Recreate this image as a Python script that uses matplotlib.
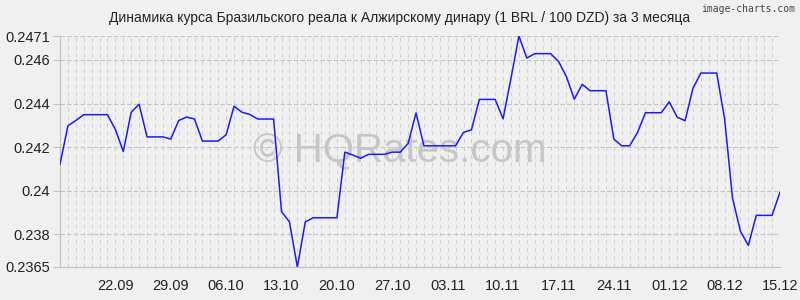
import numpy as np
import pandas as pd
import matplotlib
matplotlib.use("Agg")
import matplotlib.pyplot as plt
import matplotlib.dates as mdates

plt.rcParams['font.family'] = ['Liberation Sans', 'DejaVu Sans']

# daily BRL/DZD rate (per 100 DZD), 15.09 - 15.12
dates = pd.date_range('2024-09-15', '2024-12-15', freq='D')
rates = [
    0.24121, 0.24298, 0.24322, 0.24349, 0.24349, 0.24349, 0.24349, 0.24281,
    0.24180, 0.24360, 0.24397, 0.24247, 0.24247, 0.24247, 0.24237, 0.24322,
    0.24338, 0.24329, 0.24228, 0.24228, 0.24228, 0.24257, 0.24388, 0.24360,
    0.24350, 0.24329, 0.24329, 0.24329, 0.23904, 0.23857, 0.23650, 0.23857,
    0.23876, 0.23876, 0.23876, 0.23876, 0.24177, 0.24164, 0.24149, 0.24167,
    0.24167, 0.24167, 0.24177, 0.24177, 0.24217, 0.24357, 0.24206, 0.24206,
    0.24206, 0.24206, 0.24206, 0.24268, 0.24279, 0.24419, 0.24419, 0.24419,
    0.24330, 0.24516, 0.24710, 0.24609, 0.24629, 0.24629, 0.24629, 0.24594,
    0.24524, 0.24420, 0.24488, 0.24459, 0.24459, 0.24459, 0.24237, 0.24206,
    0.24206, 0.24268, 0.24358, 0.24358, 0.24358, 0.24408, 0.24338, 0.24321,
    0.24470, 0.24540, 0.24540, 0.24540, 0.24330, 0.23966, 0.23814, 0.23749,
    0.23887, 0.23887, 0.23887, 0.23994,
]
yticks = [0.2365, 0.238, 0.24, 0.242, 0.244, 0.246, 0.2471]
ylabels = ['0.2365', '0.238', '0.24', '0.242', '0.244', '0.246', '0.2471']
xticks = pd.date_range('2024-09-22', '2024-12-15', freq='7D')

bg = '#f0f0f0'
fig = plt.figure(figsize=(8, 3), dpi=100, facecolor=bg)
ax = fig.add_axes([0.075, 0.11, 0.9, 0.77], facecolor=bg)

ax.plot(dates, rates, color='#1a1aff', lw=1.1, zorder=3)

ax.set_xlim(dates[0], dates[-1])
ax.set_ylim(yticks[0], yticks[-1])
ax.set_yticks(yticks)
ax.set_yticklabels(ylabels)
ax.set_xticks(xticks)
ax.xaxis.set_major_formatter(mdates.DateFormatter('%d.%m'))

# daily vertical grid, horizontal grid at ticks
for d in dates:
    ax.axvline(d, color='#cdcdcd', lw=0.7, ls=(0, (4, 4)), zorder=1)
for y in yticks:
    ax.axhline(y, color='#c4c4c4', lw=0.8, ls=(0, (4, 2)), zorder=1)

for s in ['top', 'right']:
    ax.spines[s].set_visible(False)
ax.spines['left'].set_color('#c0c0c0')
ax.spines['bottom'].set_color('#c0c0c0')
ax.tick_params(axis='y', length=5, color='#c0c0c0', labelsize=10.5, labelcolor='#222222', pad=2)
ax.tick_params(axis='x', length=0, labelsize=10.5, labelcolor='#222222', pad=9)

ax.text(0.472, 0.5, '© HQRates.com', transform=ax.transAxes, fontsize=29,
        color='#c6c6c6', ha='center', va='center', zorder=2)

fig.text(0.5, 0.94, 'Динамика курса Бразильского реала к Алжирскому динару (1 BRL / 100 DZD) за 3 месяца',
         ha='center', va='center', fontsize=10, color='#222222')
fig.text(0.994, 0.985, 'image-charts.com', ha='right', va='top', fontsize=7,
         color='#444444', family='DejaVu Sans Mono')

fig.savefig('out.png', dpi=100, facecolor=bg)
